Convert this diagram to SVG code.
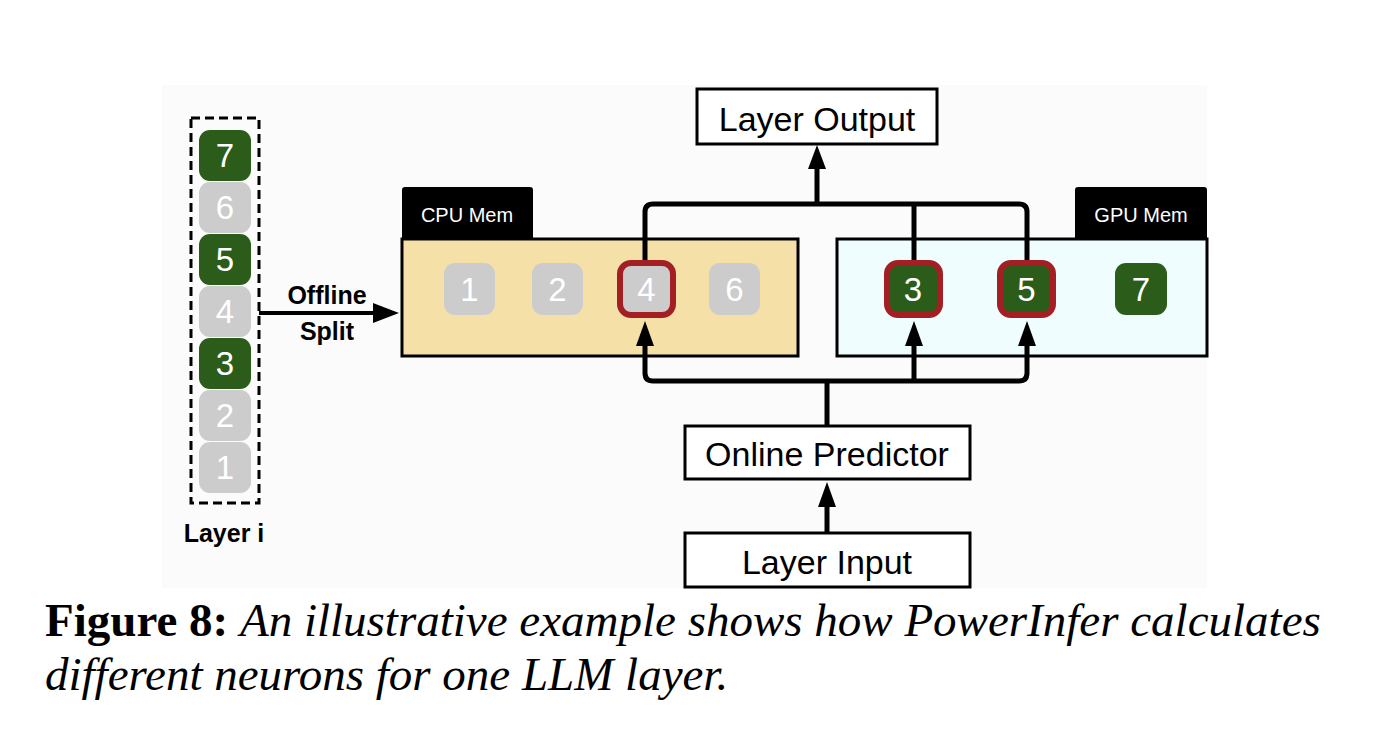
<svg xmlns="http://www.w3.org/2000/svg" width="1386" height="750" viewBox="0 0 1386 750">
<defs>
<style>
.bg{fill:#fbfbfb}
.num{font-family:"Liberation Sans",Arial,sans-serif;font-size:33px;fill:#fff;text-anchor:middle}
.gray{fill:#cccccc}
.green{fill:#2b5c1a}
.hot{stroke:#a31f24;stroke-width:6}
.box{fill:#fff;stroke:#000;stroke-width:3}
.boxtxt{font-family:"Liberation Sans",Arial,sans-serif;font-size:34px;fill:#000;text-anchor:middle}
.tab{fill:#000}
.tabtxt{font-family:"Liberation Sans",Arial,sans-serif;font-size:20px;fill:#fff;text-anchor:middle}
.wire{fill:none;stroke:#000;stroke-width:5;stroke-linejoin:round;stroke-linecap:butt}
.bold{font-family:"Liberation Sans",Arial,sans-serif;font-weight:bold;font-size:25px;fill:#000;text-anchor:middle}
</style>
</defs>
<rect class="bg" x="162" y="85" width="1045" height="503"/>

<g id="layer-i">
<rect x="191" y="118" width="68" height="385" fill="none" stroke="#000" stroke-width="3" stroke-dasharray="9 5"/>
<rect class="green" x="199" y="130" width="52" height="51" rx="11"/><text class="num" x="225" y="167">7</text>
<rect class="gray" x="199" y="182" width="52" height="51" rx="11"/><text class="num" x="225" y="219">6</text>
<rect class="green" x="199" y="234" width="52" height="51" rx="11"/><text class="num" x="225" y="271">5</text>
<rect class="gray" x="199" y="286" width="52" height="51" rx="11"/><text class="num" x="225" y="323">4</text>
<rect class="green" x="199" y="338" width="52" height="51" rx="11"/><text class="num" x="225" y="375">3</text>
<rect class="gray" x="199" y="390" width="52" height="51" rx="11"/><text class="num" x="225" y="427">2</text>
<rect class="gray" x="199" y="442" width="52" height="51" rx="11"/><text class="num" x="225" y="479">1</text>
<text class="bold" x="224" y="542">Layer i</text>
</g>

<g id="cpu-mem">
<path class="tab" d="M402 241 V190 Q402 187 405 187 H530 Q533 187 533 190 V241 Z"/>
<text class="tabtxt" x="467" y="222">CPU Mem</text>
<rect x="402" y="239" width="396" height="117" fill="#f5e0a8" stroke="#000" stroke-width="3"/>
<rect class="gray" x="444" y="263" width="51" height="52" rx="11"/><text class="num" x="469.5" y="301">1</text>
<rect class="gray" x="532" y="263" width="51" height="52" rx="11"/><text class="num" x="557.5" y="301">2</text>
<rect class="gray hot" x="620" y="263" width="53" height="52" rx="11"/><text class="num" x="646.5" y="301">4</text>
<rect class="gray" x="709" y="263" width="51" height="52" rx="11"/><text class="num" x="734.5" y="301">6</text>
</g>

<g id="gpu-mem">
<path class="tab" d="M1075 241 V190 Q1075 187 1078 187 H1204 Q1207 187 1207 190 V241 Z"/>
<text class="tabtxt" x="1141" y="222">GPU Mem</text>
<rect x="837" y="239" width="370" height="117" fill="#f0fdff" stroke="#000" stroke-width="3"/>
<rect class="green hot" x="887" y="263" width="53" height="52" rx="11"/><text class="num" x="913" y="301">3</text>
<rect class="green hot" x="1000" y="263" width="53" height="52" rx="11"/><text class="num" x="1026.5" y="301">5</text>
<rect class="green" x="1115" y="263" width="52" height="52" rx="11"/><text class="num" x="1141" y="301">7</text>
</g>

<g id="layer-output">
<rect class="box" x="697" y="89" width="240" height="55"/>
<text class="boxtxt" x="817" y="131">Layer Output</text>
</g>

<g id="online-predictor">
<rect class="box" x="685" y="426" width="285" height="53"/>
<text class="boxtxt" x="827" y="466">Online Predictor</text>
</g>

<g id="layer-input">
<rect class="box" x="685" y="533" width="285" height="54"/>
<text class="boxtxt" x="827" y="574">Layer Input</text>
</g>

<g id="offline-split-label">
<text class="bold" x="327" y="304">Offline</text>
<text class="bold" x="327" y="340">Split</text>
</g>

<g id="connectors">
<line x1="259" y1="313" x2="376" y2="313" stroke="#000" stroke-width="4"/>
<polygon points="399,313 373,303 373,323"/>
<path class="wire" d="M645 260 V212 Q645 204 653 204 H1019 Q1027 204 1027 212 V260"/>
<path class="wire" d="M914 204 V260"/>
<path class="wire" d="M817 204 V165"/>
<polygon points="817,145 808,169 826,169"/>
<path class="wire" d="M645 344 V373 Q645 381 653 381 H1019 Q1027 381 1027 373 V344"/>
<path class="wire" d="M914 381 V344"/>
<path class="wire" d="M827 381 V426"/>
<polygon points="645,321 636,346 654,346"/>
<polygon points="914,321 905,346 923,346"/>
<polygon points="1027,321 1018,346 1036,346"/>
<path class="wire" d="M827 533 V503"/>
<polygon points="827,482 818,507 836,507"/>
</g>

<g id="caption" font-family="'Liberation Serif','Times New Roman',serif" font-size="47" fill="#000">
<text x="45" y="636"><tspan font-weight="bold">Figure 8:</tspan> <tspan font-style="italic">An illustrative example shows how PowerInfer calculates</tspan></text>
<text x="45" y="690" font-style="italic">different neurons for one LLM layer.</text>
</g>
</svg>
